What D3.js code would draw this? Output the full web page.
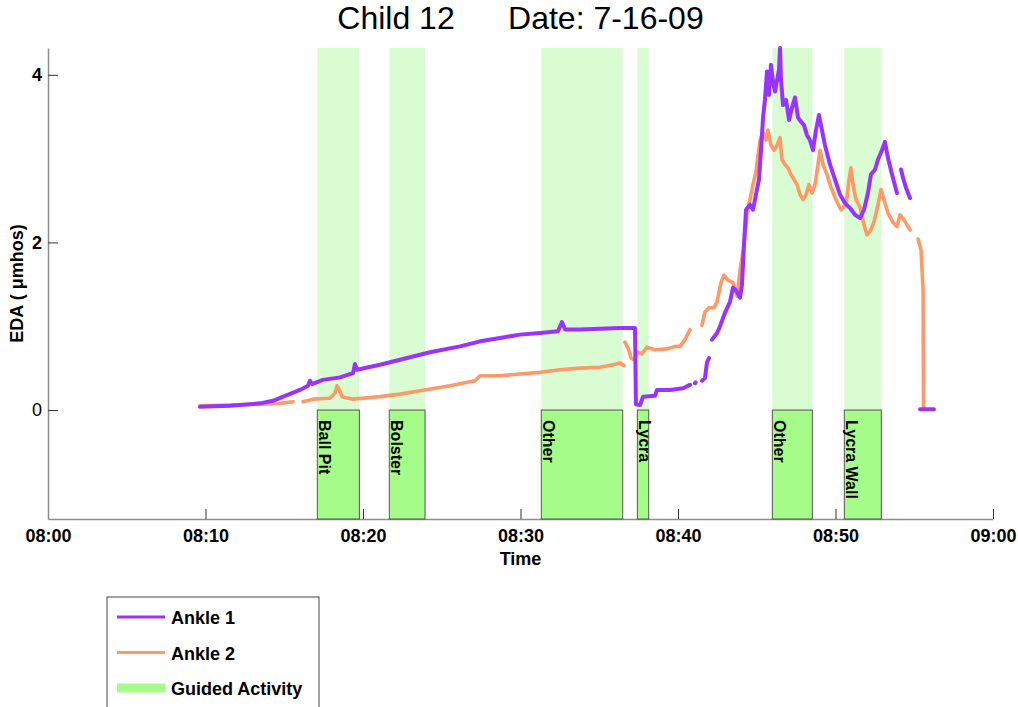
<!DOCTYPE html>
<html>
<head>
<meta charset="utf-8">
<script src="https://cdn.jsdelivr.net/npm/d3@7"></script>
<style>
  body { margin: 0; background: #fff; }
  svg { font-family: Arial, "Liberation Sans", Helvetica, sans-serif; }
</style>
</head>
<body>
<svg id="chart" width="1018" height="707"></svg>
<script>
// ---------------- DATA ----------------
const titleText = "Child 12      Date: 7-16-09";
const xLabel = "Time";
const yLabel = "EDA ( \u03bcmhos)";
const xTickLabels = ["08:00", "08:10", "08:20", "08:30", "08:40", "08:50", "09:00"];
const yTickValues = [0, 2, 4];

// activities (minutes after 08:00)
const activityNames = ["Ball Pit", "Bolster", "Other", "Lycra", "Other", "Lycra Wall"];
const activityStart = [17.1, 21.67, 31.32, 37.42, 45.99, 50.56];
const activityEnd   = [19.77, 23.94, 36.49, 38.14, 48.53, 52.91];

// Ankle 1 (minutes after 08:00, EDA); null = gap
const ankle1Min = [9.65, 11.56, 13.46, 14.29, 15.05, 16.0, 16.51, 16.63, 16.76, 17.46, 18.54, 19.37, 19.49, 19.62,
  21.08, 22.35, 24.25, 26.16, 27.43, 28.7, 29.97, 31.24, 32.38, 32.63, 32.83, 33.78, 35.05, 36.32, 37.27,
  37.33, 37.59, 37.78, 38.54, 38.67, 39.49, 40.32, 40.76, null, 41.08, 41.12, null,
  41.52, 41.71, 41.84, 41.97, null, 42.16, 42.48, 42.67, 42.98, 43.3, 43.49, 43.68, 43.94, 44.06, 44.19, 44.32,
  44.57, 44.76, 44.95, 45.14, 45.27, 45.4, 45.52, 45.65, 45.78, 45.9, 46.03, 46.16, 46.29, 46.41, 46.48, 46.54,
  46.67, 46.86, 47.05, 47.24, 47.43, 47.62, 47.81, 48.0, 48.19, 48.38, 48.57, 48.76, 48.95, 49.14, 49.33,
  49.65, 49.97, 50.29, 50.6, 50.92, 51.24, 51.56, 51.81, 52.06, 52.25, 52.51, 52.7, 52.95, 53.14, 53.33,
  53.59, 53.9, null, 54.16, 54.29, 54.48, 54.73, null, 55.37, 56.25];
const ankle1EDA = [0.04, 0.05, 0.08, 0.11, 0.17, 0.24, 0.29, 0.35, 0.31, 0.36, 0.39, 0.44, 0.55, 0.48,
  0.54, 0.60, 0.69, 0.76, 0.82, 0.86, 0.90, 0.92, 0.94, 1.05, 0.96, 0.96, 0.97, 0.98, 0.98,
  0.07, 0.06, 0.16, 0.17, 0.24, 0.24, 0.26, 0.30, null, 0.32, 0.33, null,
  0.35, 0.38, 0.57, 0.62, null, 0.84, 0.92, 1.00, 1.16, 1.29, 1.46, 1.43, 1.34, 1.49, 1.97, 2.39,
  2.45, 2.39, 2.57, 2.75, 3.10, 3.49, 3.70, 4.04, 3.76, 4.12, 3.92, 3.80, 3.94, 4.06, 4.32, 3.94,
  3.64, 3.70, 3.46, 3.61, 3.73, 3.49, 3.44, 3.40, 3.28, 3.22, 3.10, 3.34, 3.52, 3.34, 3.16,
  2.93, 2.75, 2.57, 2.47, 2.41, 2.33, 2.29, 2.39, 2.59, 2.81, 2.87, 2.99, 3.10, 3.20, 3.01,
  2.81, 2.59, null, 2.87, 2.77, 2.65, 2.53, null, 0.01, 0.01];

// Ankle 2
const ankle2Min = [9.65, 11.56, 13.46, 14.73, 15.56, null, 16.19, 16.83, 17.9, 18.22, 18.35, 18.48, 18.67, 19.37,
  21.08, 22.35, 23.62, 25.52, 27.11, 27.43, 28.7, 29.97, 31.24, 32.51, 33.78, 35.05, 35.87, 36.32, 36.57, null,
  36.63, 36.83, 37.02, 37.21, 37.46, 37.71, 38.03, 38.54, 39.3, 39.81, 40.13, 40.44, 40.76, null,
  41.52, 41.71, 41.97, 42.29, 42.48, 42.73, 42.92, 43.17, 43.49, 43.75, 43.94, 44.19, 44.38, 44.57, 44.76,
  44.95, 45.08, 45.21, 45.4, 45.59, 45.71, 45.9, 46.1, 46.29, 46.48, 46.6, 46.79, 46.98, 47.17, 47.37,
  47.56, 47.75, 47.94, 48.13, 48.32, 48.51, 48.7, 48.89, 49.02, 49.21, 49.46, 49.71, 50.03, 50.35, 50.67,
  50.86, 50.98, 51.11, 51.3, 51.56, 51.81, 52.0, 52.19, 52.44, 52.7, 52.89, 53.08, 53.33, 53.65, 53.9,
  54.1, 54.35, 54.73, null, 55.24, 55.43, 55.56, 55.59, 55.62];
const ankle2EDA = [0.05, 0.06, 0.07, 0.08, 0.10, null, 0.10, 0.13, 0.14, 0.20, 0.29, 0.25, 0.16, 0.13,
  0.16, 0.19, 0.23, 0.29, 0.35, 0.41, 0.41, 0.43, 0.45, 0.48, 0.50, 0.51, 0.54, 0.56, 0.53, null,
  0.81, 0.74, 0.62, 0.60, 0.69, 0.67, 0.75, 0.72, 0.73, 0.76, 0.76, 0.84, 0.96, null,
  1.01, 1.17, 1.22, 1.22, 1.29, 1.52, 1.61, 1.55, 1.52, 1.36, 1.67, 1.97, 2.33, 2.51, 2.69,
  2.84, 3.04, 3.22, 3.31, 3.22, 3.34, 3.16, 3.10, 3.16, 3.25, 2.99, 2.93, 2.89, 2.81, 2.75,
  2.69, 2.57, 2.51, 2.57, 2.69, 2.59, 2.69, 2.93, 3.10, 2.93, 2.81, 2.66, 2.51, 2.39, 2.45,
  2.75, 2.89, 2.69, 2.51, 2.42, 2.21, 2.09, 2.13, 2.24, 2.45, 2.63, 2.51, 2.35, 2.24, 2.19,
  2.33, 2.27, 2.15, null, 2.04, 1.91, 1.43, 0.04, 0.02];

const seriesNames = ["Ankle 1", "Ankle 2", "Guided Activity"];

// ---------------- STYLE / LAYOUT ----------------
const COL_A1 = "#9933ff";
const COL_A2 = "#ff9966";
const COL_BOX = "#a6fc88";
const COL_SHADE = "#dafcd2";

const svg = d3.select("#chart");
const margin = { left: 48, right: 25, top: 48, bottom: 188 };
const W = 1018, H = 707;

const t0 = new Date(2009, 6, 16, 8, 0, 0);
const toDate = m => new Date(t0.getTime() + m * 60000);
const parseHM = d3.timeParse("%Y-%m-%d %H:%M");

const x = d3.scaleTime()
  .domain([toDate(0), toDate(60)])
  .range([margin.left, W - margin.right]);
const y = d3.scaleLinear()
  .domain([-1.3, 4.32])
  .range([H - margin.bottom, margin.top]);

// shading above 0 and boxes below 0
const acts = activityNames.map((n, i) => ({ name: n, s: activityStart[i], e: activityEnd[i] }));

svg.append("g").selectAll("rect").data(acts).join("rect")
  .attr("x", d => x(toDate(d.s)))
  .attr("width", d => x(toDate(d.e)) - x(toDate(d.s)))
  .attr("y", y(4.32))
  .attr("height", y(0) - y(4.32))
  .attr("fill", COL_SHADE);

// axes
const xTicks = xTickLabels.map(s => parseHM("2009-07-16 " + s));
const xAxis = d3.axisBottom(x)
  .tickValues(xTicks)
  .tickFormat(d3.timeFormat("%H:%M"))
  .tickSizeInner(-10).tickSizeOuter(0).tickPadding(10);
const gx = svg.append("g").attr("transform", `translate(0,${y(-1.3)})`).call(xAxis);

const yAxis = d3.axisLeft(y)
  .tickValues(yTickValues)
  .tickFormat(d3.format("d"))
  .tickSizeInner(-10).tickSizeOuter(0).tickPadding(6);
const gy = svg.append("g").attr("transform", `translate(${margin.left},0)`).call(yAxis);

[gx, gy].forEach(g => {
  g.select(".domain").attr("stroke", "#8c8c8c").attr("stroke-width", 1.5);
  g.selectAll(".tick line").attr("stroke", "#333").attr("stroke-width", 1);
  g.selectAll(".tick text").attr("fill", "#000").attr("font-size", 18).attr("font-weight", "bold")
    .attr("font-family", "Arial, 'Liberation Sans', sans-serif");
});
gy.selectAll(".tick text").filter(d => d === 0).attr("font-weight", "normal");

// boxes
const boxes = svg.append("g");
boxes.selectAll("rect").data(acts).join("rect")
  .attr("x", d => x(toDate(d.s)))
  .attr("width", d => x(toDate(d.e)) - x(toDate(d.s)))
  .attr("y", y(0))
  .attr("height", y(-1.3) - y(0))
  .attr("fill", COL_BOX)
  .attr("stroke", "#555")
  .attr("stroke-width", 1);
boxes.selectAll("text").data(acts).join("text")
  .attr("transform", d => `translate(${x(toDate(d.s)) + 1.5},${y(0) + 10}) rotate(90)`)
  .attr("font-size", 16)
  .attr("font-weight", "bold")
  .attr("fill", "#000")
  .text(d => d.name);

// lines
const mk = (ms, vs) => ms.map((m, i) => ({ t: m === null ? null : toDate(m), v: vs[i] }));
const line = d3.line()
  .defined(d => d.t !== null && d.v !== null)
  .x(d => x(d.t)).y(d => y(d.v));

svg.append("path").datum(mk(ankle2Min, ankle2EDA))
  .attr("d", line).attr("fill", "none").attr("stroke", COL_A2)
  .attr("stroke-width", 3.6).attr("stroke-linejoin", "round").attr("stroke-linecap", "round");
svg.append("path").datum(mk(ankle1Min, ankle1EDA))
  .attr("d", line).attr("fill", "none").attr("stroke", COL_A1)
  .attr("stroke-width", 4).attr("stroke-linejoin", "round").attr("stroke-linecap", "round");

// title & labels
svg.append("text")
  .attr("x", (margin.left + W - margin.right) / 2).attr("y", 29)
  .attr("text-anchor", "middle").attr("font-size", 32)
  .style("white-space", "pre").attr("xml:space", "preserve")
  .text(titleText);

svg.append("text")
  .attr("x", (margin.left + W - margin.right) / 2).attr("y", 565)
  .attr("text-anchor", "middle").attr("font-size", 18).attr("font-weight", "bold")
  .text(xLabel);

svg.append("text")
  .attr("transform", `translate(23,${(y(-1.3) + y(4.32)) / 2}) rotate(-90)`)
  .attr("text-anchor", "middle").attr("font-size", 18).attr("font-weight", "bold")
  .text(yLabel);

// legend
const lg = svg.append("g");
lg.append("rect").attr("x", 107).attr("y", 597).attr("width", 212).attr("height", 130)
  .attr("fill", "#fff").attr("stroke", "#444").attr("stroke-width", 1);
const legendColors = [COL_A1, COL_A2, COL_BOX];
const legendWidths = [3, 3, 9];
seriesNames.forEach((n, i) => {
  const yy = 617 + i * 35.5;
  lg.append("line").attr("x1", 117).attr("x2", 165).attr("y1", yy).attr("y2", yy)
    .attr("stroke", legendColors[i]).attr("stroke-width", legendWidths[i]);
  lg.append("text").attr("x", 171).attr("y", yy + 7)
    .attr("font-size", 18).attr("font-weight", "bold").text(n);
});
</script>
</body>
</html>
